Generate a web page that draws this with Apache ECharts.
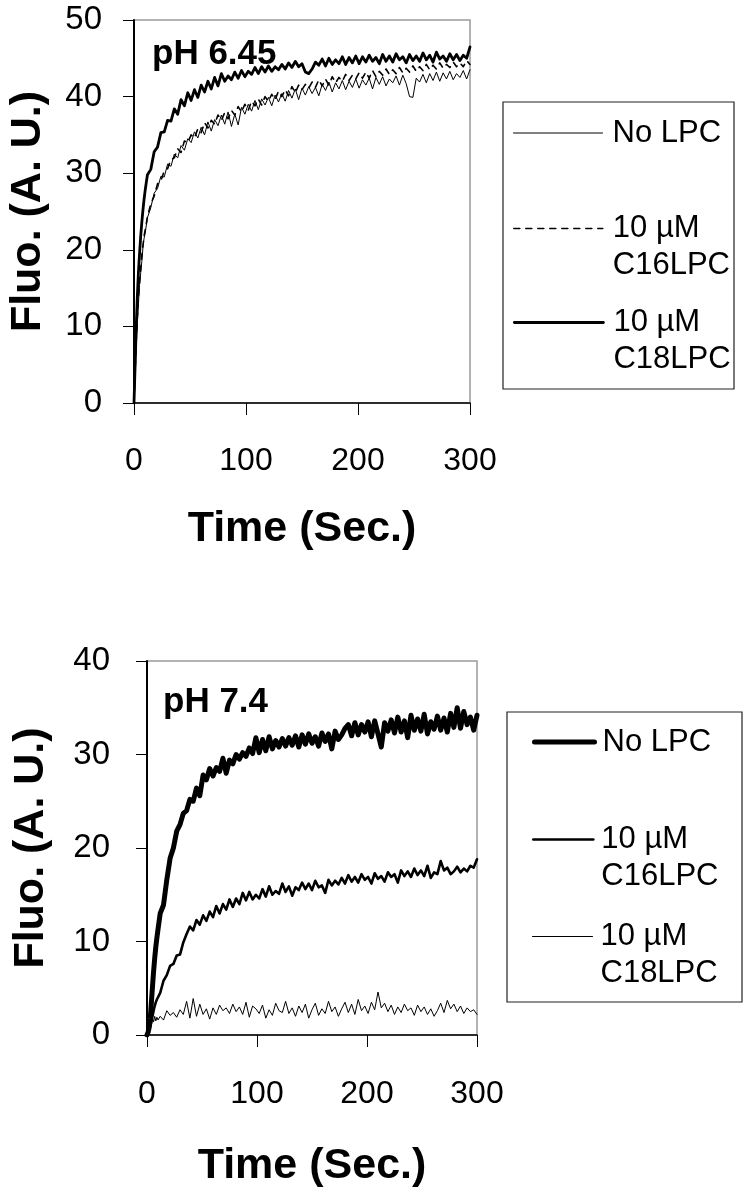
<!DOCTYPE html>
<html>
<head>
<meta charset="utf-8">
<script src="https://cdn.jsdelivr.net/npm/echarts@6/dist/echarts.min.js"></script>
<style>
html,body{margin:0;padding:0;background:#fff;}
#chart{width:746px;height:1199px;}
</style>
</head>
<body>
<div id="chart"></div>
<script>
// Sampling times (s), shared by both panels
var time = [0,1,2,3,4,5,6,7,8,9,10,12,
  15,18,21,24,27,30,33,36,39,42,45,48,
  51,54,57,60,63,66,69,72,75,78,81,84,
  87,90,93,96,99,102,105,108,111,114,117,120,
  123,126,129,132,135,138,141,144,147,150,153,156,
  159,162,165,168,171,174,177,180,183,186,189,192,
  195,198,201,204,207,210,213,216,219,222,225,228,
  231,234,237,240,243,246,249,252,255,258,261,264,
  267,270,273,276,279,282,285,288,291,294,297,300];

var xTicks = [0, 100, 200, 300];

// ---- Panel A: pH 6.45 ----
var phA_noLPC = [0,3.5,7.5,10.5,13,15.5,17,18.5,20.3,21.5,22.2,24.2,
  25.5,27.4,28.0,29.6,29.5,31.2,30.9,32.5,32.0,33.6,33.0,34.5,
  34.0,35.4,34.6,36.0,35.0,36.7,35.5,37.0,36.2,37.6,36.4,38.0,
  36.1,37.7,36.3,38.6,37.7,39.0,38.1,39.5,38.3,39.7,38.9,39.9,
  38.8,40.2,39.3,40.4,39.4,40.8,39.8,41.0,39.6,41.1,40.2,41.3,
  40.4,41.2,40.1,41.6,40.8,41.9,40.6,41.8,41.0,42.1,40.9,42.0,
  41.2,42.3,41.1,42.2,41.5,42.4,41.0,42.5,41.6,42.6,41.4,42.3,
  41.8,42.7,41.5,42.8,41.7,40.0,39.9,42.4,41.9,42.9,41.8,43.0,
  42.1,43.2,42.0,43.1,42.3,43.3,42.2,43.0,42.5,43.4,42.3,43.5];

var phA_C16 = [0,4,8.2,11.2,13.8,15.8,17.6,19.3,20.6,21.8,22.6,24.3,
  26.0,27.0,28.6,29.0,30.3,30.6,31.8,32.0,33.2,32.7,34.2,34.0,
  35.0,34.6,35.8,35.3,36.6,35.9,36.9,36.4,37.6,36.9,37.9,37.1,
  38.2,37.6,38.7,38.0,39.0,38.2,39.4,38.8,39.7,38.9,40.0,39.4,
  40.3,39.6,40.7,40.0,40.9,40.1,41.3,40.5,41.5,40.9,41.6,41.1,
  41.9,41.2,42.2,41.4,42.3,41.5,42.6,41.8,42.5,42.0,42.9,42.1,
  42.8,42.3,43.1,42.4,43.2,42.4,43.4,42.6,43.3,42.8,43.6,42.9,
  43.5,43.0,43.8,43.1,43.7,43.2,44.0,43.3,43.9,43.4,44.2,43.5,
  44.1,43.6,44.4,43.7,44.2,43.8,44.5,43.9,44.4,43.9,44.7,44.2];

var phA_C18 = [0,5,10,14,17.2,19.6,21.8,23.6,25.2,26.6,27.8,29.8,
  30.5,32.8,33.4,35.3,35.4,36.9,36.8,38.4,37.7,39.6,38.8,40.5,
  39.5,40.9,39.9,41.5,40.6,42.0,41.0,42.5,41.4,43.0,42.0,42.7,
  42.2,43.2,42.4,43.4,42.6,43.3,42.9,43.8,43.0,43.9,43.2,44.0,
  43.3,43.9,43.5,44.2,43.6,44.4,43.8,44.6,43.9,44.3,43.2,43.0,
  43.6,44.5,44.1,44.9,44.0,45.0,44.2,44.8,44.3,45.2,44.2,45.1,
  44.4,45.3,44.3,45.2,44.5,45.4,44.6,45.1,44.3,45.5,44.6,45.3,
  44.5,45.6,44.8,45.2,44.4,45.5,44.7,45.3,44.6,45.7,44.8,45.4,
  44.5,45.8,44.9,45.3,44.6,45.6,44.8,45.5,44.7,45.4,45.0,46.5];

// ---- Panel B: pH 7.4 ----
var phB_noLPC = [0,0.3,0.8,1.8,3.5,5.2,6.8,8.2,9.4,10.4,11.3,13.0,
  13.9,16.6,18.9,20.0,21.8,22.5,23.7,24.0,25.2,25.0,26.4,25.6,
  27.8,27.3,28.5,27.7,28.6,28.2,29.6,28.0,29.4,29.0,30.0,29.5,
  30.2,29.8,30.7,30.1,31.8,30.2,31.6,30.4,31.9,30.6,31.5,30.8,
  31.7,30.9,31.8,31.0,32.0,30.8,32.1,31.1,32.2,31.2,31.9,30.9,
  32.3,31.4,32.2,30.6,32.5,31.6,32.1,32.8,33.2,32.0,33.4,32.1,
  33.2,32.4,33.5,31.9,33.6,32.2,30.8,33.4,32.5,33.7,32.3,34.0,
  32.4,33.6,31.8,34.2,32.6,33.8,32.5,34.3,32.2,33.5,32.7,34.1,
  32.6,33.9,32.4,34.4,32.9,35.0,32.8,34.6,33.2,34.0,32.6,34.2];

var phB_C16 = [0,0.2,0.6,1.0,1.5,2.0,2.6,3.1,3.5,3.8,4.0,4.5,
  5.8,6.4,7.4,7.6,8.5,8.6,9.9,10.8,11.6,11.2,12.3,11.8,
  12.8,12.2,13.2,12.6,13.8,13.0,14.0,13.4,14.5,13.7,14.6,14.0,
  15.2,14.4,15.3,14.5,15.0,14.6,15.6,14.8,15.9,15.0,15.4,15.1,
  16.2,15.3,15.9,14.9,15.8,15.5,16.3,15.6,16.2,15.5,16.5,15.8,
  16.0,15.2,16.6,16.0,16.5,16.1,16.8,16.2,17.1,16.4,16.9,16.3,
  17.2,16.6,16.9,16.2,17.3,16.7,17.0,16.4,17.4,16.9,17.2,16.3,
  17.6,17.0,17.5,16.9,17.8,17.1,17.6,17.0,18.1,16.8,17.4,17.2,
  18.6,17.6,17.9,17.2,17.5,18.0,17.4,17.8,17.5,18.1,17.9,18.8];

var phB_C18 = [0,0.4,0.9,1.3,1.0,1.8,1.4,2.0,1.5,1.9,1.6,2.0,
  1.6,2.6,2.1,2.4,1.9,2.7,2.2,3.6,1.8,3.9,2.0,3.3,
  2.2,2.8,1.7,2.9,2.2,3.2,2.6,2.9,2.3,3.3,2.5,3.0,
  2.2,3.5,1.9,3.1,2.8,2.3,3.2,1.8,2.7,2.1,3.4,2.6,
  2.4,3.6,2.3,2.9,2.0,3.1,2.4,3.3,1.8,2.7,3.4,2.1,
  2.8,2.3,3.6,2.5,3.0,2.0,2.8,3.5,2.4,3.3,2.2,3.8,
  2.6,3.1,2.3,3.5,2.7,4.6,2.9,3.4,2.5,3.2,2.2,3.0,
  2.4,3.3,2.6,2.9,2.1,3.2,2.5,3.0,2.2,2.8,2.0,2.6,
  3.4,2.4,3.7,2.8,3.3,2.5,3.1,2.3,2.9,2.5,2.7,2.2];

var yTicksA = [0,10,20,30,40,50];
var yTicksB = [0,10,20,30,40];

var FONT = '"Liberation Sans", Arial, Helvetica, sans-serif';

function pairs(vals) { return time.map(function (t, i) { return [t, vals[i]]; }); }

function xAxisCfg(gridIndex, margin, nameGap) {
  return {
    gridIndex: gridIndex, type: 'value', min: xTicks[0], max: xTicks[xTicks.length - 1], interval: 100,
    name: 'Time (Sec.)', nameLocation: 'middle', nameGap: nameGap,
    nameTextStyle: { fontFamily: FONT, fontSize: 43, fontWeight: 'bold', color: '#000' },
    axisLine: { show: true, onZero: false, lineStyle: { color: '#000', width: 1.5 } },
    axisTick: { show: true, inside: false, length: 12, lineStyle: { color: '#000', width: 1 } },
    axisLabel: { fontFamily: FONT, fontSize: 32, color: '#000', margin: margin },
    splitLine: { show: false }
  };
}
function yAxisCfg(gridIndex, ticks, margin, nameGap) {
  return {
    gridIndex: gridIndex, type: 'value', min: ticks[0], max: ticks[ticks.length - 1], interval: 10,
    name: 'Fluo. (A. U.)', nameLocation: 'middle', nameGap: nameGap, nameRotate: 90,
    nameTextStyle: { fontFamily: FONT, fontSize: 43, fontWeight: 'bold', color: '#000' },
    axisLine: { show: true, onZero: false, lineStyle: { color: '#000', width: 2 } },
    axisTick: { show: true, inside: false, length: 11, lineStyle: { color: '#000', width: 1 } },
    axisLabel: { fontFamily: FONT, fontSize: 33, color: '#000', margin: margin },
    splitLine: { show: false }
  };
}
function lineSeries(name, vals, gi, width, type) {
  return {
    name: name, type: 'line', xAxisIndex: gi, yAxisIndex: gi,
    data: pairs(vals), symbol: 'none', showSymbol: false, silent: true,
    lineStyle: { color: '#000', width: width, type: type || 'solid', join: 'round', cap: 'round' },
    itemStyle: { color: '#000' }
  };
}
// Two-line labels get a blank first line so the icon sits level with "10 µM"
function legendCfg(name, label, left, top, iconW, padLeft) {
  return {
    data: [name], formatter: label, orient: 'vertical', left: left, top: top, padding: 0,
    itemWidth: iconW, itemHeight: 14, selectedMode: false,
    itemStyle: { opacity: 0 }, lineStyle: { width: 'inherit' },
    textStyle: { fontFamily: FONT, fontSize: 31, color: '#000', lineHeight: 37, padding: [0, 0, 0, padLeft] }
  };
}

var option = {
  animation: false,
  backgroundColor: '#fff',
  title: [
    { text: 'pH 6.45', left: 152, top: 37, padding: 0,
      textStyle: { fontFamily: FONT, fontSize: 35, fontWeight: 'bold', color: '#000' } },
    { text: 'pH 7.4', left: 163, top: 685, padding: 0,
      textStyle: { fontFamily: FONT, fontSize: 35, fontWeight: 'bold', color: '#000' } }
  ],
  grid: [
    { left: 134, top: 20, width: 336, height: 383, show: true, borderColor: '#9a9a9a', borderWidth: 1.5, backgroundColor: 'transparent' },
    { left: 147, top: 661, width: 330, height: 374, show: true, borderColor: '#9a9a9a', borderWidth: 1.5, backgroundColor: 'transparent' }
  ],
  xAxis: [ xAxisCfg(0, 42, 105), xAxisCfg(1, 43, 110) ],
  yAxis: [ yAxisCfg(0, yTicksA, 32, 84), yAxisCfg(1, yTicksB, 37, 94) ],
  legend: [
    legendCfg('No LPC (pH 6.45)', 'No LPC', 513, 114.5, 89, 5),
    legendCfg('10 µM C16LPC (pH 6.45)', ' \n10 µM\nC16LPC', 513, 173, 89, 5),
    legendCfg('10 µM C18LPC (pH 6.45)', ' \n10 µM\nC18LPC', 513, 267, 89, 5),
    legendCfg('No LPC (pH 7.4)', 'No LPC', 532, 723.5, 60, 3),
    legendCfg('10 µM C16LPC (pH 7.4)', ' \n10 µM\nC16LPC', 532, 784, 60, 3),
    legendCfg('10 µM C18LPC (pH 7.4)', ' \n10 µM\nC18LPC', 532, 881, 60, 3)
  ],
  graphic: [
    { type: 'rect', shape: { x: 503, y: 102, width: 231, height: 287 }, style: { fill: 'none', stroke: '#222', lineWidth: 1.2 }, silent: true },
    { type: 'rect', shape: { x: 507, y: 712, width: 235, height: 290 }, style: { fill: 'none', stroke: '#222', lineWidth: 1.2 }, silent: true }
  ],
  series: [
    lineSeries('No LPC (pH 6.45)', phA_noLPC, 0, 1),
    lineSeries('10 µM C16LPC (pH 6.45)', phA_C16, 0, 1.6, [6, 6]),
    lineSeries('10 µM C18LPC (pH 6.45)', phA_C18, 0, 2.8),
    lineSeries('No LPC (pH 7.4)', phB_noLPC, 1, 5),
    lineSeries('10 µM C16LPC (pH 7.4)', phB_C16, 1, 2.6),
    lineSeries('10 µM C18LPC (pH 7.4)', phB_C18, 1, 1)
  ]
};

var chart = echarts.init(document.getElementById('chart'), null, { renderer: 'canvas' });
chart.setOption(option);
</script>
</body>
</html>
